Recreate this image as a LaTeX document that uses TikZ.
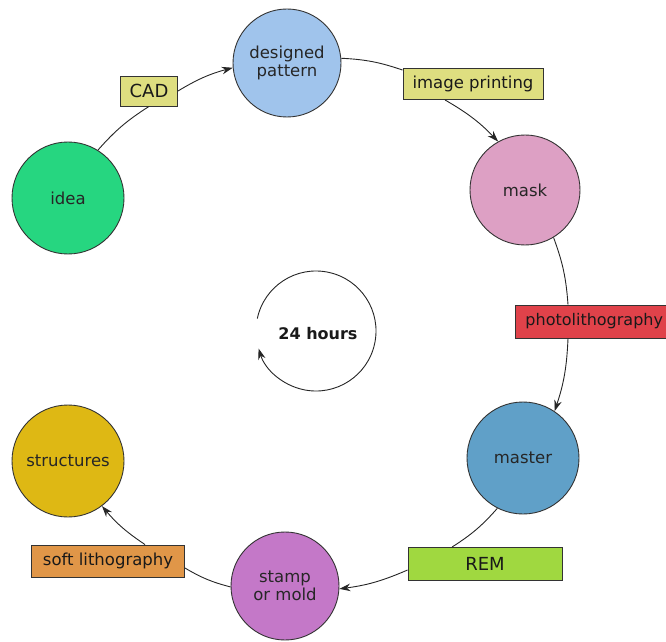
\documentclass[tikz,border=0pt]{standalone}
\usepackage{fontspec}
\setmainfont{DejaVu Sans}
\usetikzlibrary{arrows.meta,calc}
\definecolor{cidea}{RGB}{38,214,128}
\definecolor{cpat}{RGB}{160,196,236}
\definecolor{cmask}{RGB}{221,160,196}
\definecolor{cmaster}{RGB}{96,160,200}
\definecolor{cstamp}{RGB}{196,120,200}
\definecolor{cstruct}{RGB}{222,184,20}
\definecolor{cyel}{RGB}{222,222,128}
\definecolor{cred}{RGB}{224,66,74}
\definecolor{cgreen}{RGB}{160,216,64}
\definecolor{corange}{RGB}{224,150,72}
\begin{document}
\begin{tikzpicture}[x=1pt,y=1pt,
  proc/.style={circle, draw=black!80, line width=0.9pt, minimum size=#1, inner sep=0pt, align=center, font=\fontsize{16.5}{18}\selectfont, text=black!85},
  lab/.style={draw=black!80, line width=0.9pt, inner sep=0pt, font=\fontsize{16.5}{19}\selectfont, text=black!90},
  conn/.style={draw=black!85, line width=0.9pt},
  arr/.style={conn, -{Stealth[length=11pt,width=7.5pt]}},
]
\useasboundingbox (0,0) rectangle (666,641);
\clip (0,0) rectangle (666,641);

\node[proc=112, fill=cidea] (idea) at (68,443) {idea};
\node[proc=108, fill=cpat] (pattern) at (287,578) {designed\\pattern};
\node[proc=110, fill=cmask] (mask) at (525,451) {mask};
\node[proc=112, fill=cmaster] (master) at (523,183) {master};
\node[proc=108, fill=cstamp] (stamp) at (285,55) {stamp\\or mold};
\node[proc=112, fill=cstruct] (struct) at (68,180) {structures};

\node[lab, fill=cyel, minimum width=57, minimum height=30, font=\fontsize{18}{19}\selectfont] (cad) at (149,550) {CAD};
\node[lab, fill=cyel, minimum width=140, minimum height=31] (ip) at (473,557) {image printing};
\node[lab, fill=cred, minimum height=33, anchor=west, inner xsep=10pt, font=\fontsize{16}{19}\selectfont] (photo) at (515,319.5) {photolithography};
\node[lab, fill=cgreen, minimum width=154, minimum height=33, font=\fontsize{18}{19}\selectfont] (rem) at (485,77) {REM};
\node[lab, fill=corange, minimum width=153, minimum height=32] (soft) at (108,80) {soft lithography};

\coordinate (hc) at (316,310);
\node[font=\bfseries\fontsize{16}{19}\selectfont, text=black!90] (hours) at (318,307) {24 hours};
\draw[arr] ($(hc)+(168:60)$) arc[start angle=168, end angle=-163, radius=60];

\draw[conn] (idea.58) to[bend left=8] (cad.south);
\draw[arr] (cad.east) to[bend left=8] (pattern.185);
\draw[conn] (pattern.5) to[bend left=8] ($(ip.north west)+(0,-2)$);
\draw[arr] ($(ip.south)+(-28,0)$) to[bend left=8] (mask.119);
\draw[conn] (mask.-59) to[bend left=8] ($(photo.north west)+(53,0)$);
\draw[arr] ($(photo.south west)+(53,0)$) to[bend left=8] (master.56);
\draw[conn] (master.-117) to[bend left=8] ($(rem.north)+(-33,0)$);
\draw[arr] ($(rem.west)+(0,-6)$) to[bend left=8] (stamp.-3);
\draw[conn] (stamp.181) to[bend left=8] ($(soft.east)+(0,-7)$);
\draw[arr] ($(soft.north)+(37,0)$) to[bend left=8] (struct.-53);
\end{tikzpicture}
\end{document}
